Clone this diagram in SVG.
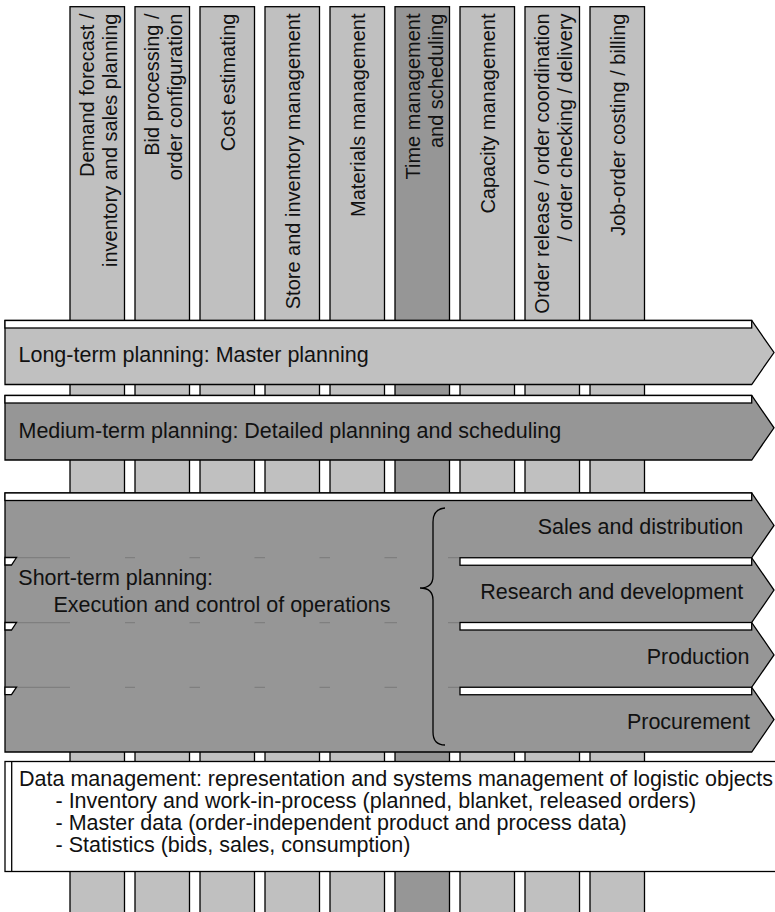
<svg xmlns="http://www.w3.org/2000/svg" width="775" height="912" viewBox="0 0 775 912">
<style>
  .col { fill: #c0c0c0; stroke: #000; stroke-width: 1.3; }
  .col.dark { fill: #969696; }
  .light { fill: #c0c0c0; stroke: #000; stroke-width: 1.3; stroke-linejoin: miter; }
  .mid { fill: #969696; stroke: #000; stroke-width: 1.3; stroke-linejoin: miter; }
  .strip { fill: #fff; stroke: #000; stroke-width: 1.3; }
  .vt { font-family: "Liberation Sans", Arial, sans-serif; font-size: 20px; fill: #111; text-anchor: end; }
  .ht { font-family: "Liberation Sans", Arial, sans-serif; font-size: 21.5px; fill: #111; }
  .end { text-anchor: end; }
  .faint { stroke: #7a7a7a; stroke-width: 1; fill: none; }
</style>
<rect width="775" height="912" fill="#fff"/>

<g id="columns">
  <g id="col-demand">
    <rect class="col" x="70" y="6.7" width="54.5" height="910"/>
    <text class="vt" transform="translate(94,13.5) rotate(-90)">Demand forecast /</text>
    <text class="vt" transform="translate(117,13.5) rotate(-90)">inventory and sales planning</text>
  </g>
  <g id="col-bid">
    <rect class="col" x="135" y="6.7" width="54.5" height="910"/>
    <text class="vt" transform="translate(159,13.5) rotate(-90)">Bid processing /</text>
    <text class="vt" transform="translate(182,13.5) rotate(-90)">order configuration</text>
  </g>
  <g id="col-cost">
    <rect class="col" x="200" y="6.7" width="54.5" height="910"/>
    <text class="vt" transform="translate(234.5,13.5) rotate(-90)">Cost estimating</text>
  </g>
  <g id="col-store">
    <rect class="col" x="265" y="6.7" width="54.5" height="910"/>
    <text class="vt" transform="translate(299.5,13.5) rotate(-90)">Store and inventory management</text>
  </g>
  <g id="col-materials">
    <rect class="col" x="330" y="6.7" width="54.5" height="910"/>
    <text class="vt" transform="translate(364.5,13.5) rotate(-90)">Materials management</text>
  </g>
  <g id="col-time">
    <rect class="col dark" x="395" y="6.7" width="54.5" height="910"/>
    <text class="vt" transform="translate(419.5,13.5) rotate(-90)">Time management</text>
    <text class="vt" transform="translate(442.5,13.5) rotate(-90)">and scheduling</text>
  </g>
  <g id="col-capacity">
    <rect class="col" x="460" y="6.7" width="54.5" height="910"/>
    <text class="vt" transform="translate(494.5,13.5) rotate(-90)">Capacity management</text>
  </g>
  <g id="col-order">
    <rect class="col" x="525" y="6.7" width="54.5" height="910"/>
    <text class="vt" transform="translate(549,13.5) rotate(-90)">Order release / order coordination</text>
    <text class="vt" transform="translate(572,13.5) rotate(-90)">/ order checking / delivery</text>
  </g>
  <g id="col-joborder">
    <rect class="col" x="590" y="6.7" width="54.5" height="910"/>
    <text class="vt" transform="translate(624.5,13.5) rotate(-90)">Job-order costing / billing</text>
  </g>
</g>

<g id="long-term">
  <polygon class="light" points="5,320.5 751.7,320.5 774,352.5 751.7,384.5 5,384.5"/>
  <rect class="strip" x="5" y="320.5" width="746.7" height="7.5"/>
  <text class="ht" x="18.5" y="361.5">Long-term planning: Master planning</text>
</g>

<g id="medium-term">
  <polygon class="mid" points="5,395.5 751.7,395.5 774,427.8 751.7,460 5,460"/>
  <rect class="strip" x="5" y="395.5" width="746.7" height="7.5"/>
  <text class="ht" x="18.5" y="437.5">Medium-term planning: Detailed planning and scheduling</text>
</g>

<g id="short-term">
  <polygon class="mid" points="5,493 751.7,493 774,525.4 751.7,557.75 774,590.1 751.7,622.5 774,654.9 751.7,687.25 774,719.6 751.7,752 5,752"/>
  <rect class="strip" x="5" y="493" width="746.7" height="7.5"/>
  <g class="faint">
    <path d="M5,557.7H70M125,557.7H135M189.5,557.7H200M254.5,557.7H265M319.5,557.7H330M384.5,557.7H397M448,557.7H460"/>
    <path d="M5,622.7H70M125,622.7H135M189.5,622.7H200M254.5,622.7H265M319.5,622.7H330M384.5,622.7H397M448,622.7H460"/>
    <path d="M5,687.3H70M125,687.3H135M189.5,687.3H200M254.5,687.3H265M319.5,687.3H330M384.5,687.3H397M448,687.3H460"/>
  </g>
  <polygon class="strip" points="5,557.5 16.5,557.5 11.5,565 5,565"/>
  <polygon class="strip" points="5,622.5 16.5,622.5 11.5,630 5,630"/>
  <polygon class="strip" points="5,687.2 16.5,687.2 11.5,694.7 5,694.7"/>
  <text class="ht" x="18.3" y="585">Short-term planning:</text>
  <text class="ht" x="53.5" y="612">Execution and control of operations</text>
</g>

<g id="sales">
  <text class="ht end" x="743.3" y="533.5">Sales and distribution</text>
</g>
<g id="research">
  <rect class="strip" x="460" y="557.75" width="291.7" height="7.5"/>
  <text class="ht end" x="743.3" y="598.5">Research and development</text>
</g>
<g id="production">
  <rect class="strip" x="460" y="622.5" width="291.7" height="7.5"/>
  <text class="ht end" x="749.5" y="663.5">Production</text>
</g>
<g id="procurement">
  <rect class="strip" x="460" y="687.25" width="291.7" height="7.5"/>
  <text class="ht end" x="750" y="728.5">Procurement</text>
</g>

<g id="brace">
  <path d="M445,508 Q433,509 433,522 L433,576 Q433,588 420,588 Q433,588 433,600 L433,732 Q433,745 445,745" fill="none" stroke="#000" stroke-width="1.3"/>
</g>

<g id="data-management">
  <rect x="5" y="761.5" width="790" height="110" fill="#fff" stroke="#000" stroke-width="1.3"/>
  <line x1="11.7" y1="761.5" x2="11.7" y2="871.5" stroke="#000" stroke-width="1.3"/>
  <text class="ht" x="19" y="786">Data management: representation and systems management of logistic objects</text>
  <text class="ht" x="55.5" y="808">- Inventory and work-in-process (planned, blanket, released orders)</text>
  <text class="ht" x="55.5" y="830">- Master data (order-independent product and process data)</text>
  <text class="ht" x="55.5" y="852">- Statistics (bids, sales, consumption)</text>
</g>
</svg>
